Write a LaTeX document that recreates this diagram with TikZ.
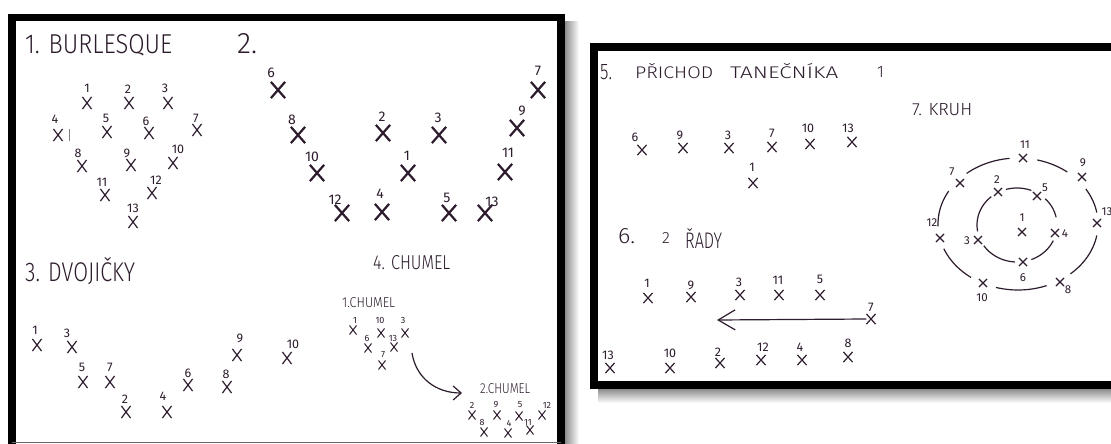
\documentclass[tikz,border=0pt]{standalone}
\usepackage{fontspec}
\setmainfont{Liberation Sans}
\newfontfamily\hand{Fira Sans Light}
\newfontfamily\handn{Fira Sans}
\usetikzlibrary{shapes.misc,arrows.meta}
\definecolor{ink}{RGB}{45,28,45}
\newcommand{\hwbox}[3]{\resizebox{#1pt}{#2pt}{\hand #3}}
\newcommand{\hwh}[2]{\resizebox{!}{#1pt}{\hand #2}}
\tikzset{
  xa/.style={cross out,draw=ink,inner sep=0pt,minimum width=8pt,minimum height=11pt,line width=1.2pt},
  xb/.style={cross out,draw=ink,inner sep=0pt,minimum width=12pt,minimum height=14pt,line width=2.2pt},
  xc/.style={cross out,draw=ink,inner sep=0pt,minimum width=6pt,minimum height=8pt,line width=1pt},
  xd/.style={cross out,draw=ink,inner sep=0pt,minimum width=8pt,minimum height=9pt,line width=1.2pt},
  xe/.style={cross out,draw=ink,inner sep=0pt,minimum width=7pt,minimum height=7pt,line width=1.1pt},
  lab/.style={text=ink,inner sep=0pt,font=\handn\fontsize{12.5}{12.5}\selectfont},
  labb/.style={text=ink,inner sep=0pt,font=\handn\fontsize{14}{14}\selectfont},
  labs/.style={text=ink,inner sep=0pt,font=\handn\fontsize{9}{9}\selectfont},
  labe/.style={text=ink,inner sep=0pt,font=\handn\fontsize{11.5}{11.5}\selectfont},
  title/.style={text=ink,inner sep=0pt,anchor=base west},
  frame/.style={draw=black,line width=8pt},
  ring/.style={draw=ink,line width=1.2pt},
  arr/.style={draw=ink,line width=1.2pt}
}
\begin{document}
\begin{tikzpicture}[x=1pt,y=-1pt]
\useasboundingbox (0,0) rectangle (1111,444);
\fill[white] (0,0) rectangle (1111,444);
% ---------- frames and shadows ----------
\shade[left color=black!45,right color=white] (565,22) rectangle (579,444);
\shade[top color=black!45,bottom color=white] (598,389) rectangle (1111,403);
\draw[frame,line width=7.5pt] (12,446) -- (12,17.5) -- (561,17.5) -- (561,446);
\draw[black!60,line width=1pt] (12,442.5) -- (561,442.5);
\draw[frame] (1116,47) -- (594,47) -- (594,385) -- (1116,385);
% ---------- 1. BURLESQUE ----------
\node[title] (t1) at (25,54) {\hwbox{147}{19}{1. BURLESQUE}};
\node[xa] (b1) at (87,103) {};  \node[lab] (lb1) at (87,88) {1};
\node[xa] (b2) at (129,103) {}; \node[lab] (lb2) at (128,89) {2};
\node[xa] (b3) at (168,103) {}; \node[lab] (lb3) at (165,88) {3};
\node[xa] (b4) at (58,135) {};  \node[lab] (lb4) at (55,119) {4};
\draw[black!50,line width=0.8pt] (69,129) -- (69,141);
\node[xa] (b5) at (107,132) {}; \node[lab] (lb5) at (106,118) {5};
\node[xa] (b6) at (149,133) {}; \node[lab] (lb6) at (146,121) {6};
\node[xa] (b7) at (197,130) {}; \node[lab] (lb7) at (196,118) {7};
\node[xa] (b8) at (82,166) {};  \node[lab] (lb8) at (78,153) {8};
\node[xa] (b9) at (131,165) {}; \node[lab] (lb9) at (127,153) {9};
\node[xa] (b10) at (173,163) {}; \node[lab] (lb10) at (178,149) {10};
\node[xa] (b11) at (105,195) {}; \node[lab] (lb11) at (102,182) {11};
\node[xa] (b12) at (152,193) {}; \node[lab] (lb12) at (156,180) {12};
\node[xa] (b13) at (133,222) {}; \node[lab] (lb13) at (133,208) {13};
% ---------- 2. ----------
\node[title] (t2) at (237,53) {\hwbox{20}{20}{2.}};
\node[xb] (c6) at (278,90) {};  \node[labb] (lc6) at (271,73) {6};
\node[xb] (c8) at (298,135) {}; \node[labb] (lc8) at (292,120) {8};
\node[xb] (c10) at (317,173) {}; \node[labb] (lc10) at (312,157) {10};
\node[xb] (c12) at (342,213) {}; \node[labb] (lc12) at (335,200) {12};
\node[xb] (c2) at (383,133) {}; \node[labb] (lc2) at (382,117) {2};
\node[xb] (c3) at (439,135) {}; \node[labb] (lc3) at (438,118) {3};
\node[xb] (c1) at (408,173) {}; \node[labb] (lc1) at (407,156) {1};
\node[xb] (c4) at (382,212) {}; \node[labb] (lc4) at (380,194) {4};
\node[xb] (c5) at (449,213) {}; \node[labb] (lc5) at (447,198) {5};
\node[xb] (c13) at (485,213) {}; \node[labb] (lc13) at (492,202) {13};
\node[xb] (c11) at (505,172) {}; \node[labb] (lc11) at (508,153) {11};
\node[xb] (c9) at (517,128) {}; \node[labb] (lc9) at (522,111) {9};
\node[xb] (c7) at (538,90) {};  \node[labb] (lc7) at (538,71) {7};
% ---------- 3. DVOJICKY ----------
\node[title] (t3) at (25,281) {\hwbox{110}{24}{3. DVOJIČKY}};
\node[xa] (d1) at (37,345) {};  \node[lab] (ld1) at (35,330) {1};
\node[xa] (d3) at (72,347) {};  \node[lab] (ld3) at (67,333) {3};
\node[xa] (d5) at (83,382) {};  \node[lab] (ld5) at (82,367) {5};
\node[xa] (d7) at (110,382) {}; \node[lab] (ld7) at (110,367) {7};
\node[xa] (d2) at (126,412) {}; \node[lab] (ld2) at (125,399) {2};
\node[xa] (d4) at (167,412) {}; \node[lab] (ld4) at (163,396) {4};
\node[xa] (d6) at (188,385) {}; \node[lab] (ld6) at (188,373) {6};
\node[xa] (d8) at (227,387) {}; \node[lab] (ld8) at (226,374) {8};
\node[xa] (d9) at (237,355) {}; \node[lab] (ld9) at (240,338) {9};
\node[xa] (d10) at (287,358) {}; \node[lab] (ld10) at (293,344) {10};
% ---------- 4. CHUMEL ----------
\node[title] (t4) at (373,269) {\hwbox{77}{14}{4. CHUMEL}};
\node[title] (t4a) at (342,307) {\hwbox{53}{10}{1.CHUMEL}};
\node[xc] (e1) at (353,330) {};  \node[labs] (le1) at (355,320) {1};
\node[xc] (e10) at (381,333) {}; \node[labs] (le10) at (380,320) {10};
\node[xc] (e3) at (405,333) {};  \node[labs] (le3) at (403,320) {3};
\node[xc] (e6) at (368,348) {};  \node[labs] (le6) at (367,338) {6};
\node[xc] (e13) at (394,347) {}; \node[labs] (le13) at (393,338) {13};
\node[xc] (e7) at (382,365) {};  \node[labs] (le7) at (383,355) {7};
\coordinate (a4s) at (412,353);
\coordinate (a4e) at (462,393);
\draw[arr,-{Straight Barb[length=8pt,width=14pt]}] (a4s) .. controls (416,378) and (436,393) .. (a4e);
\node[title] (t4b) at (480,393) {\hwbox{50}{10}{2.CHUMEL}};
\node[xc] (f2) at (472,415) {};  \node[labs] (lf2) at (472,405) {2};
\node[xc] (f9) at (497,415) {};  \node[labs] (lf9) at (496,405) {9};
\node[xc] (f5) at (519,416) {};  \node[labs] (lf5) at (520,405) {5};
\node[xc] (f12) at (542,415) {}; \node[labs] (lf12) at (547,405) {12};
\node[xc] (f8) at (484,432) {};  \node[labs] (lf8) at (482,422) {8};
\node[xc] (f4) at (508,433) {};  \node[labs] (lf4) at (509,423) {4};
\node[xc] (f11) at (530,430) {}; \node[labs] (lf11) at (528,422) {11};
% ---------- 5. PRICHOD TANECNIKA 1 ----------
\node[title] (t5a) at (600,79) {\hwbox{12}{15}{5.}};
\node[title] (t5b) at (635,79) {\hwbox{78}{15}{PŘICHOD}};
\node[title] (t5c) at (730,79) {\hwbox{108}{15}{TANEČNÍKA}};
\node[title] (t5d) at (877,78) {\hwh{11}{1}};
\node[xd] (g6) at (642,150) {};  \node[lab] (lg6) at (635,137) {6};
\node[xd] (g9) at (683,148) {};  \node[lab] (lg9) at (680,135) {9};
\node[xd] (g3) at (729,148) {};  \node[lab] (lg3) at (728,135) {3};
\node[xd] (g7) at (772,147) {};  \node[lab] (lg7) at (772,133) {7};
\node[xd] (g10) at (810,144) {}; \node[lab] (lg10) at (808,128) {10};
\node[xd] (g13) at (852,142) {}; \node[lab] (lg13) at (848,128) {13};
\node[xd] (g1) at (753,183) {};  \node[lab] (lg1) at (752,167) {1};
% ---------- 6. 2 RADY ----------
\node[title] (t6a) at (618,243) {\hwbox{17}{15}{6.}};
\node[title] (t6b) at (662,243) {\hwh{11}{2}};
\node[title] (t6c) at (685,248) {\hwbox{37}{20}{ŘADY}};
\node[xd] (h1) at (648,298) {};  \node[lab] (lh1) at (647,283) {1};
\node[xd] (h9) at (691,297) {};  \node[lab] (lh9) at (691,285) {9};
\node[xd] (h3) at (740,295) {};  \node[lab] (lh3) at (739,282) {3};
\node[xd] (h11) at (779,295) {}; \node[lab] (lh11) at (778,280) {11};
\node[xd] (h5) at (820,295) {};  \node[lab] (lh5) at (820,279) {5};
\node[xd] (h7) at (871,319) {};  \node[lab] (lh7) at (871,307) {7};
\coordinate (a6e) at (717,320);
\draw[arr,-{Straight Barb[length=17pt,width=20pt]}] (h7.west) -- (a6e);
\node[xd] (h13) at (610,368) {}; \node[lab] (lh13) at (608,355) {13};
\node[xd] (h10) at (670,368) {}; \node[lab] (lh10) at (670,353) {10};
\node[xd] (h2) at (720,363) {};  \node[lab] (lh2) at (718,352) {2};
\node[xd] (h12) at (761,360) {}; \node[lab] (lh12) at (763,347) {12};
\node[xd] (h4) at (802,360) {};  \node[lab] (lh4) at (800,347) {4};
\node[xd] (h8) at (848,357) {};  \node[lab] (lh8) at (848,343) {8};
% ---------- 7. KRUH ----------
\node[title] (t7) at (912,115) {\hwbox{60}{12}{7. KRUH}};
\foreach \a/\b in {10/49,69/106,126/158,178/210,230/264,284/308,328/350}
  \draw[ring] plot[domain=\a:\b,samples=16,smooth] ({1018+80*cos(\x)},{224+66*sin(\x)});
\foreach \a/\b in {-45/-12,25/69,93/146,170/230,254/291}
  \draw[ring] plot[domain=\a:\b,samples=16,smooth] ({1017+40*cos(\x)},{225+37*sin(\x)});
\node[xe] (k11) at (1023,158) {}; \node[labe] (lk11) at (1025,145) {11};
\node[xe] (k7) at (960,183) {};   \node[labe] (lk7) at (952,172) {7};
\node[xe] (k12) at (940,238) {};  \node[labe] (lk12) at (932,223) {12};
\node[xe] (k10) at (983,283) {};  \node[labe] (lk10) at (982,298) {10};
\node[xe] (k8) at (1060,282) {};  \node[labe] (lk8) at (1068,290) {8};
\node[xe] (k13) at (1097,223) {}; \node[labe] (lk13) at (1107,212) {13};
\node[xe] (k9) at (1082,177) {};  \node[labe] (lk9) at (1083,163) {9};
\node[xe] (k2) at (998,192) {};   \node[labe] (lk2) at (997,180) {2};
\node[xe] (k5) at (1037,196) {};  \node[labe] (lk5) at (1045,188) {5};
\node[xe] (k4) at (1055,233) {};  \node[labe] (lk4) at (1065,234) {4};
\node[xe] (k6) at (1023,262) {};  \node[labe] (lk6) at (1023,278) {6};
\node[xe] (k3) at (978,240) {};   \node[labe] (lk3) at (967,241) {3};
\node[xe] (k1) at (1022,232) {};  \node[labe] (lk1) at (1022,218) {1};
\end{tikzpicture}
\end{document}
